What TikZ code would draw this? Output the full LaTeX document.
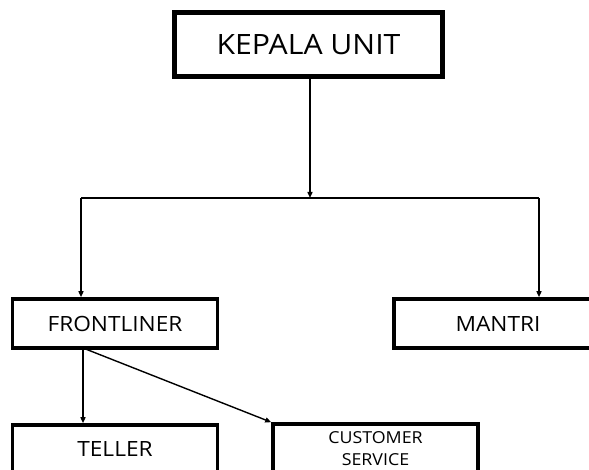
\documentclass[tikz,border=0pt]{standalone}
\usepackage{fontspec}
\setmainfont{Open Sans}[FakeStretch=1.08]
\usetikzlibrary{arrows.meta, positioning}
\usepackage{xcolor}

\begin{document}
\begin{tikzpicture}[x=1pt,y=-1pt,>={Triangle[length=6pt,width=5pt]},line width=1.4pt]
    \tikzstyle{unit}=[rectangle,draw=black,fill=white,inner sep=0pt,align=center]
    \tikzstyle{top unit}=[unit, line width=5pt, minimum width=268pt, minimum height=63.5pt, font=\fontsize{28}{34}\selectfont]
    \tikzstyle{mid unit}=[unit, line width=3.6pt, minimum width=205pt, minimum height=49pt, font=\fontsize{21}{25}\selectfont]
    \tikzstyle{low unit}=[unit, line width=3.6pt, minimum width=205pt, minimum height=49pt, font=\fontsize{16.5}{22}\selectfont]

    \useasboundingbox (0,0) rectangle (589,470);
    \clip (0,0) rectangle (589,470);

    % Draw the head
    \node[top unit] (kepala) at (308.5,44.5) {KEPALA UNIT};

    % Draw the second row
    \node[mid unit] (frontliner) at (115,323.5) {FRONTLINER};
    \node[mid unit, minimum width=208pt] (mantri) at (498,323.5) {MANTRI};

    % Draw the third row
    \node[mid unit] (teller) at (115,449.5) {TELLER};
    \node[low unit] (cs) at (375.5,448.5) {CUSTOMER\\SERVICE};

    \coordinate (split) at (310,198);
    \coordinate (left) at (81,198);
    \coordinate (right) at (539,198);
    \coordinate (fork) at (83,348);

    \draw[->] (kepala.south -| split) -- (split);
    \draw (left) -- (right);
    \draw[->] (left) -- (frontliner.north -| left);
    \draw[->] (right) -- (mantri.north -| right);

    \draw[->] (fork) -- (teller.north -| fork);
    \draw[->] (fork) -- (cs.north west);
\end{tikzpicture}
\end{document}
